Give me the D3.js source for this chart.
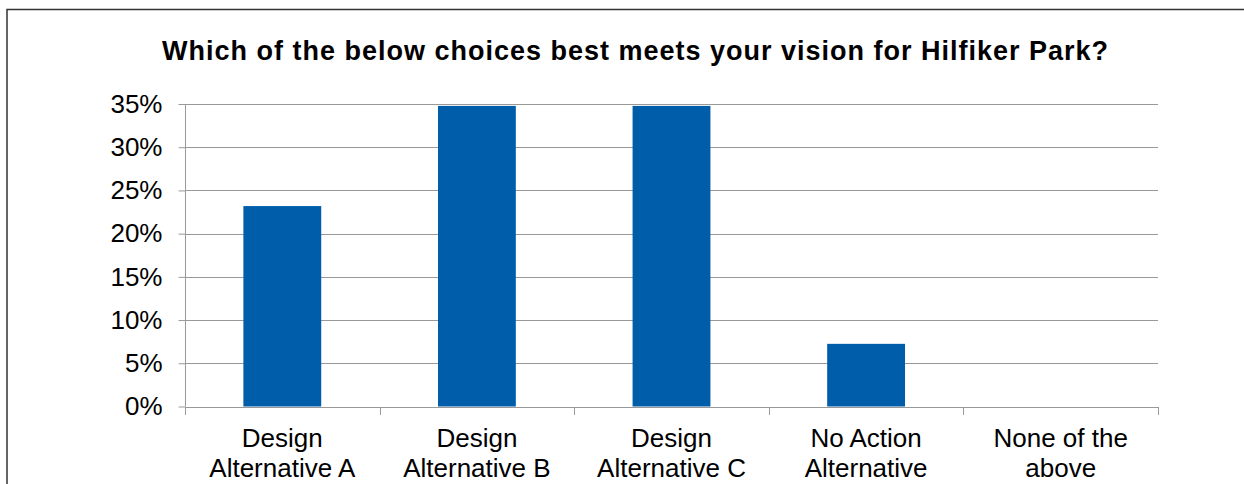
<!DOCTYPE html>
<html>
<head>
<meta charset="utf-8">
<script src="https://cdn.jsdelivr.net/npm/d3@7"></script>
<style>
  html, body { margin: 0; padding: 0; background: #fff; }
  svg { display: block; }
  text { font-family: "Liberation Sans", Arial, sans-serif; fill: #000; }
</style>
</head>
<body>
<svg id="chart" width="1244" height="484"></svg>
<script>
const title = "Which of the below choices best meets your vision for Hilfiker Park?";
const categories = [
  ["Design", "Alternative A"],
  ["Design", "Alternative B"],
  ["Design", "Alternative C"],
  ["No Action", "Alternative"],
  ["None of the", "above"]
];
const values = [0.2319, 0.3478, 0.3478, 0.0725, 0];
const yTicks = [0, 0.05, 0.10, 0.15, 0.20, 0.25, 0.30, 0.35];

const svg = d3.select("#chart");
const W = 1244, H = 484;
const plot = { left: 185, right: 1158, top: 104, bottom: 406.5 };

// outer chart border
svg.append("rect")
  .attr("x", 7).attr("y", 9.5)
  .attr("width", W + 20).attr("height", H + 20)
  .attr("fill", "none").attr("stroke", "#333").attr("stroke-width", 1.5);

const idx = categories.map((d, i) => i);
const x = d3.scaleBand().domain(idx).range([plot.left, plot.right])
  .paddingInner(0.6).paddingOuter(0.3);
const y = d3.scaleLinear().domain([0, 0.35]).range([plot.bottom, plot.top]);

// gridlines
svg.append("g").selectAll("line").data(yTicks).join("line")
  .attr("x1", plot.left).attr("x2", plot.right)
  .attr("y1", d => Math.round(y(d)) + 0.5).attr("y2", d => Math.round(y(d)) + 0.5)
  .attr("stroke", "#999").attr("stroke-width", 1);

// y axis
const yAxis = svg.append("g")
  .attr("transform", `translate(${plot.left + 0.5},0)`)
  .call(d3.axisLeft(y).tickValues(yTicks).tickFormat(d3.format(".0%")).tickSize(7).tickPadding(16));
yAxis.select(".domain").attr("stroke", "#999").attr("d", `M0,${plot.top}V${plot.bottom}`);
yAxis.selectAll(".tick line").attr("stroke", "#999");
yAxis.selectAll(".tick text")
  .style("font-family", "'Liberation Sans', Arial, sans-serif")
  .style("font-size", "26px").attr("fill", "#000");

// bars
svg.append("g").selectAll("rect").data(values).join("rect")
  .attr("x", (d, i) => x(i)).attr("width", x.bandwidth())
  .attr("y", d => y(d)).attr("height", d => y(0) - y(d))
  .attr("fill", "#005DAA");

// x axis baseline & category ticks
const step = x.step();
const boundaries = d3.range(categories.length + 1).map(i => plot.left + i * step);
const xg = svg.append("g");
xg.append("line")
  .attr("x1", plot.left).attr("x2", plot.right)
  .attr("y1", Math.round(y(0)) + 0.5).attr("y2", Math.round(y(0)) + 0.5)
  .attr("stroke", "#999");
xg.selectAll("line.tk").data(boundaries).join("line").attr("class", "tk")
  .attr("x1", d => Math.round(d) + 0.5).attr("x2", d => Math.round(d) + 0.5)
  .attr("y1", Math.round(y(0))).attr("y2", Math.round(y(0)) + 8)
  .attr("stroke", "#999");

// category labels
const lab = svg.append("g").selectAll("text").data(categories).join("text")
  .attr("text-anchor", "middle")
  .style("font-size", "26px");
lab.each(function(d, i) {
  const t = d3.select(this);
  d.forEach((line, j) => {
    t.append("tspan").attr("x", x(i) + x.bandwidth() / 2).attr("y", 447 + j * 30).text(line);
  });
});

// title
svg.append("text")
  .attr("x", 635).attr("y", 60)
  .attr("text-anchor", "middle")
  .attr("textLength", 946).attr("lengthAdjust", "spacing")
  .style("font-size", "27px").style("font-weight", "bold")
  .text(title);
</script>
</body>
</html>
